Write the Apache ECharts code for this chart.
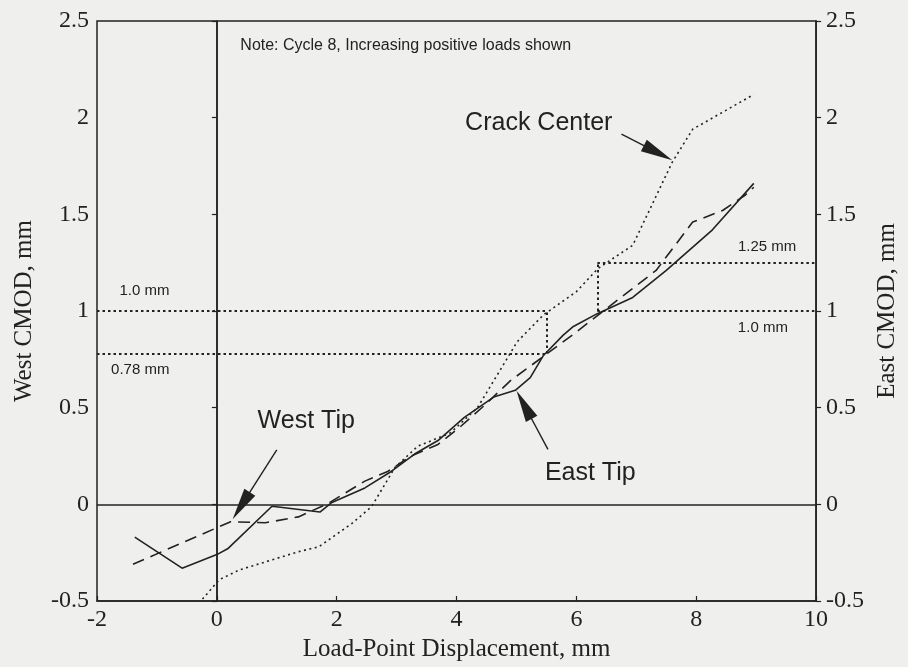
<!DOCTYPE html>
<html><head><meta charset="utf-8">
<script src="https://cdn.jsdelivr.net/npm/echarts@6/dist/echarts.min.js"></script>
<style>html,body{margin:0;padding:0;background:#efefed}#c{width:908px;height:667px}</style>
</head><body><div id="c"></div>
<script>
// ---- data ----
const xTicks = [-2, 0, 2, 4, 6, 8, 10];
const yTicks = [-0.5, 0, 0.5, 1, 1.5, 2, 2.5];

const eastTipX = [-1.37, -0.58, 0, 0.18, 0.92, 1.72, 1.92, 2.47, 2.91, 3.3, 3.69, 4.13, 4.62, 4.98, 5.23, 5.45, 5.78, 5.95, 6.34, 6.94, 7.5, 8.27, 8.96];
const eastTipY = [-0.17, -0.33, -0.26, -0.23, -0.01, -0.04, 0.01, 0.085, 0.17, 0.26, 0.33, 0.45, 0.555, 0.59, 0.655, 0.77, 0.875, 0.92, 0.985, 1.07, 1.21, 1.42, 1.66];

const westTipX = [-1.4, 0.23, 0.81, 1.36, 1.86, 2.47, 2.85, 3.24, 3.69, 4.02, 4.46, 4.9, 5.34, 5.95, 6.45, 7.33, 7.94, 8.44, 8.82, 8.96];
const westTipY = [-0.31, -0.09, -0.095, -0.065, 0.005, 0.12, 0.17, 0.25, 0.31, 0.39, 0.51, 0.64, 0.74, 0.88, 1.0, 1.21, 1.46, 1.52, 1.6, 1.64];

const crackX = [-0.24, 0.04, 0.37, 1.36, 1.7, 2.25, 2.58, 2.97, 3.35, 3.9, 4.35, 4.68, 5.01, 5.45, 6.0, 6.36, 6.94, 7.6, 7.94, 8.96];
const crackY = [-0.49, -0.39, -0.34, -0.245, -0.22, -0.10, -0.013, 0.19, 0.30, 0.37, 0.50, 0.67, 0.84, 0.98, 1.10, 1.22, 1.34, 1.77, 1.94, 2.12];

// reference levels (mm)
const westLevels = [1.0, 0.78];
const westLevelX = 5.5;
const eastLevels = [1.25, 1.0];
const eastLevelX = 6.35;

const seriesNames = ['East Tip', 'West Tip', 'Crack Center'];
const noteText = 'Note: Cycle 8, Increasing positive loads shown';
const levelLabels = ['1.0 mm', '0.78 mm', '1.25 mm', '1.0 mm'];

// ---- build ----
const zip = (xs, ys) => xs.map((x, i) => [x, ys[i]]);
const ink = '#222';
const serif = 'Liberation Serif';
const sans = 'Liberation Sans';
const xMin = xTicks[0], xMax = xTicks[xTicks.length - 1];
const yMin = yTicks[0], yMax = yTicks[yTicks.length - 1];

const yAxisBase = {
  type: 'value', min: yMin, max: yMax, interval: yTicks[1] - yTicks[0],
  splitLine: { show: false },
  axisLine: { show: true, lineStyle: { color: ink, width: 1.5 } },
  axisTick: { show: true, inside: false, length: 5, lineStyle: { color: ink, width: 1.2 } },
  axisLabel: { color: ink, fontFamily: serif, fontSize: 24, margin: 8 },
  nameLocation: 'middle',
  nameTextStyle: { color: ink, fontFamily: serif, fontSize: 25 }
};

const textItem = (x, y, text, size, align) => ({
  value: [x, y],
  label: {
    show: true, formatter: text, fontSize: size, fontFamily: sans, color: ink,
    textBorderWidth: 0, opacity: 1,
    align: align, verticalAlign: 'middle', position: [0, 0]
  }
});

const option = {
  backgroundColor: '#efefed',
  animation: false,
  grid: { left: 97, right: 87, top: 21, bottom: 66, show: true, borderColor: ink, borderWidth: 1.5, backgroundColor: 'transparent' },
  xAxis: {
    type: 'value', min: xMin, max: xMax, interval: xTicks[1] - xTicks[0],
    splitLine: { show: false },
    axisLine: { show: true, onZero: false, lineStyle: { color: ink, width: 1.5 } },
    axisTick: { show: true, inside: true, length: 5, lineStyle: { color: ink, width: 1.2 } },
    axisLabel: { color: ink, fontFamily: serif, fontSize: 24, margin: 7 },
    name: 'Load-Point Displacement, mm', nameLocation: 'middle', nameGap: 35,
    nameTextStyle: { color: ink, fontFamily: serif, fontSize: 25 }
  },
  yAxis: [
    Object.assign({}, yAxisBase, { position: 'left', name: 'West CMOD, mm', nameGap: 60 }),
    Object.assign({}, yAxisBase, { position: 'right', name: 'East CMOD, mm', nameGap: 58,
      axisLabel: Object.assign({}, yAxisBase.axisLabel, { margin: 10 }) })
  ],
  series: [
    {
      name: seriesNames[0], type: 'line', yAxisIndex: 1, data: zip(eastTipX, eastTipY),
      symbol: 'none', lineStyle: { color: ink, width: 1.6, type: 'solid' }
    },
    {
      name: seriesNames[1], type: 'line', yAxisIndex: 0, data: zip(westTipX, westTipY),
      symbol: 'none', lineStyle: { color: ink, width: 1.6, type: [12, 7] }
    },
    {
      name: seriesNames[2], type: 'line', yAxisIndex: 0, data: zip(crackX, crackY),
      symbol: 'none', lineStyle: { color: ink, width: 1.6, type: [2, 3.5] }
    },
    // zero lines + reference levels
    {
      type: 'line', data: [], silent: true,
      markLine: {
        silent: true, symbol: 'none', animation: false, label: { show: false },
        data: [
          [{ coord: [xMin, 0], lineStyle: { type: 'solid', width: 1.5 } }, { coord: [xMax, 0] }],
          [{ coord: [0, yMin], lineStyle: { type: 'solid', width: 1.5 } }, { coord: [0, yMax] }],
          [{ coord: [xMin, westLevels[0]] }, { coord: [westLevelX, westLevels[0]] }],
          [{ coord: [xMin, westLevels[1]] }, { coord: [westLevelX, westLevels[1]] }],
          [{ coord: [westLevelX, westLevels[1]] }, { coord: [westLevelX, westLevels[0]] }],
          [{ coord: [eastLevelX, eastLevels[0]] }, { coord: [xMax, eastLevels[0]] }],
          [{ coord: [eastLevelX, eastLevels[1]] }, { coord: [xMax, eastLevels[1]] }],
          [{ coord: [eastLevelX, eastLevels[1]] }, { coord: [eastLevelX, eastLevels[0]] }]
        ],
        lineStyle: { color: ink, width: 2, type: [2.5, 3] }
      }
    },
    // pointer arrows
    {
      type: 'line', data: [], silent: true,
      markLine: {
        silent: true, animation: false, symbol: ['none', 'triangle'], symbolSize: [13, 32],
        label: { show: false },
        lineStyle: { color: ink, width: 1.4, type: 'solid' },
        itemStyle: { color: ink },
        data: [
          [{ coord: [6.752, 1.915] }, { coord: [7.363, 1.818] }],
          [{ coord: [1.0, 0.282] }, { coord: [0.407, -0.007] }],
          [{ coord: [5.525, 0.284] }, { coord: [5.127, 0.515] }]
        ]
      }
    },
    // text annotations
    {
      type: 'scatter', symbolSize: 1, silent: true,
      itemStyle: { color: 'transparent' },
      label: { show: true, color: ink, fontFamily: sans },
      emphasis: { disabled: true },
      data: [
        textItem(0.40, 2.37, noteText, 16, 'left'),
        textItem(5.38, 1.97, seriesNames[2], 25, 'center'),
        textItem(1.50, 0.43, seriesNames[1], 25, 'center'),
        textItem(6.24, 0.157, seriesNames[0], 25, 'center'),
        textItem(-1.2, 1.10, levelLabels[0], 15, 'center'),
        textItem(-1.27, 0.695, levelLabels[1], 15, 'center'),
        textItem(9.19, 1.33, levelLabels[2], 15, 'center'),
        textItem(9.12, 0.91, levelLabels[3], 15, 'center')
      ]
    }
  ]
};

const chart = echarts.init(document.getElementById('c'), null, { renderer: 'canvas' });
chart.setOption(option);
</script>
</body></html>
